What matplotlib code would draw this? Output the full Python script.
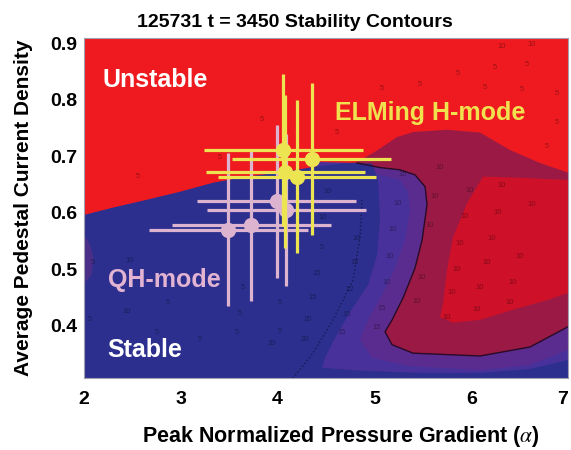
import numpy as np
import matplotlib.pyplot as plt

plt.rcParams['font.family'] = ['Liberation Sans', 'DejaVu Sans']
plt.rcParams['mathtext.fontset'] = 'stix'

# measured points (alpha, j_ped) with error bars
elm_x = [4.06, 4.35, 4.08, 4.20]
elm_y = [0.711, 0.695, 0.673, 0.664]
elm_xerr = [0.82, 0.82, 0.82, 0.82]
elm_yerr = [0.135, 0.135, 0.135, 0.135]

qh_x = [3.99, 4.09, 3.73, 3.49]
qh_y = [0.620, 0.605, 0.578, 0.570]
qh_xerr = [0.82, 0.82, 0.82, 0.82]
qh_yerr = [0.135, 0.135, 0.135, 0.135]

# region boundaries
bump_x = [4.645, 4.82, 5.006, 5.233, 5.399, 5.75, 6.091, 6.401, 6.711, 7.0, 7.0, 4.645]
bump_y = [0.685, 0.690, 0.708, 0.734, 0.743, 0.747, 0.742, 0.711, 0.688, 0.671, 0.30, 0.30]

line_x = [4.82, 5.058, 5.264, 5.419, 5.523, 5.543, 5.492, 5.419, 5.295, 5.182, 5.109,
          5.182, 5.399, 6.091, 6.607, 7.0]
line_y = [0.688, 0.680, 0.676, 0.667, 0.646, 0.614, 0.552, 0.502, 0.449, 0.410, 0.389,
          0.366, 0.351, 0.346, 0.362, 0.398]

band_x = [5.058, 5.264, 5.347, 5.368, 5.316, 5.213, 5.078, 4.934, 4.851, 4.975, 5.368,
          6.091, 6.607, 7.0]
band_y = [0.667, 0.658, 0.637, 0.605, 0.552, 0.502, 0.454, 0.410, 0.375, 0.343, 0.328,
          0.321, 0.330, 0.357]

stable_x = [2.0, 2.30, 2.65, 2.99, 3.33, 3.68, 4.02, 4.37, 4.72, 4.975, 5.037, 5.058,
            5.027, 4.934, 4.748, 4.593, 4.490, 4.459, 4.851, 5.471, 6.091, 6.607, 7.0,
            7.0, 2.0]
stable_y = [0.596, 0.609, 0.623, 0.637, 0.653, 0.664, 0.671, 0.681, 0.688, 0.687, 0.658,
            0.587, 0.525, 0.472, 0.424, 0.378, 0.343, 0.325, 0.320, 0.316, 0.316, 0.323,
            0.339, 0.30, 0.30]

core_x = [6.122, 5.957, 5.812, 5.75, 5.709, 5.678, 5.812, 6.091, 6.432, 6.783, 7.0, 7.0, 6.504]
core_y = [0.664, 0.617, 0.557, 0.499, 0.440, 0.415, 0.405, 0.410, 0.428, 0.445, 0.458,
          0.658, 0.662]

patch_x = [2.0, 2.06, 2.10, 2.08, 2.0]
patch_y = [0.56, 0.545, 0.52, 0.49, 0.475]

dot_x = [4.872, 4.851, 4.779, 4.572, 4.366, 4.159]
dot_y = [0.623, 0.557, 0.481, 0.410, 0.351, 0.307]

# growth-rate labels scattered over the contour map
lab_x = [5.678, 5.988, 6.318, 5.626, 5.936, 6.267, 6.628, 5.574, 5.884, 6.215, 6.504,
         6.163, 5.853, 5.492, 6.091, 6.432, 5.802, 5.44, 6.06, 6.40, 5.75,
         5.295, 5.244, 5.192, 5.16, 5.13, 5.078, 5.027,
         4.52, 4.47, 4.82, 4.459, 4.407, 4.8, 4.748, 4.366, 4.717, 4.314, 4.665, 4.283,
         5.864, 6.246, 6.577, 6.143, 5.471, 5.078, 6.525, 6.886, 6.628, 6.318, 3.839,
         2.558, 3.405, 4.614, 6.886, 6.783,
         3.64, 4.02, 3.61, 2.87, 2.44, 2.475, 2.09, 4.02, 3.94, 3.58, 3.2, 2.75, 2.06]
lab_y = [0.680, 0.640, 0.649, 0.628, 0.593, 0.600, 0.614, 0.578, 0.546, 0.555, 0.522,
         0.511, 0.499, 0.486, 0.467, 0.477, 0.458, 0.442, 0.428, 0.440, 0.415,
         0.667, 0.617, 0.570, 0.522, 0.476, 0.431, 0.396,
         0.637, 0.591, 0.555, 0.539, 0.493, 0.511, 0.463, 0.449, 0.419, 0.410, 0.387, 0.375,
         0.846, 0.858, 0.863, 0.822, 0.828, 0.820, 0.818, 0.812, 0.898, 0.895, 0.765,
         0.664, 0.697, 0.742, 0.759, 0.717,
         0.467, 0.440, 0.422, 0.440, 0.424, 0.516, 0.511, 0.389, 0.369, 0.387, 0.375, 0.387, 0.41]
lab_t = ['10'] * 21 + ['15', '10', '10', '10', '10', '15', '15'] + \
        ['10', '10', '10', '5', '15', '15', '12', '15', '15', '20', '15', '20'] + \
        ['5'] * 8 + ['10', '10', '5', '5', '5', '5', '5', '5'] + \
        ['5', '5', '5', '5', '10', '10', '5', '5', '20', '5', '5', '5', '5']

fig = plt.figure(figsize=(5.71, 4.5), dpi=100)
ax = fig.add_axes([0.147, 0.16, 0.848, 0.756])
ax.set_facecolor('#EF1A20')

ax.fill(bump_x, bump_y, color='#9A1A45', lw=0)
ax.fill([4.4] + line_x + [7.0, 4.4], [0.69] + line_y + [0.30, 0.30], color='#48319A', lw=0)
ax.fill(band_x + line_x[::-1], band_y + line_y[::-1], color='#5A2C8F', lw=0)
ax.fill(stable_x, stable_y, color='#2C2F8E', lw=0)
ax.fill(core_x, core_y, color='#CE1028', lw=0)
ax.fill(patch_x, patch_y, color='#4A2E88', lw=0)
ax.plot(line_x, line_y, color='#2A0A25', lw=1)
ax.plot(dot_x, dot_y, color='#1A1A55', lw=1, ls=':')

for x, y, t in zip(lab_x, lab_y, lab_t):
    ax.text(x, y, t, fontsize=5.5, color='black', alpha=0.35, ha='center', va='center')

ax.errorbar(qh_x, qh_y, xerr=qh_xerr, yerr=qh_yerr, fmt='o', color='#DDB4D0',
            ms=10, elinewidth=2.3, capsize=0, zorder=5)
ax.errorbar(elm_x, elm_y, xerr=elm_xerr, yerr=elm_yerr, fmt='o', color='#EDE452',
            ms=10, elinewidth=2.3, capsize=0, zorder=6)

tf = dict(family='Liberation Sans', fontweight='bold', fontsize=18, ha='left', va='center')
ax.text(2.196, 0.836, 'Unstable', color='white', **tf)
ax.text(4.593, 0.777, 'ELMing H-mode', color='#F0E24E', **tf)
ax.text(2.248, 0.481, 'QH-mode', color='#E2B4D2', **tf)
ax.text(2.238, 0.357, 'Stable', color='white', **tf)

ax.set_xlim(2, 7)
ax.set_ylim(0.307, 0.91)
ax.set_xticks([2, 3, 4, 5, 6, 7])
ax.set_yticks([0.4, 0.5, 0.6, 0.7, 0.8, 0.9])
ax.tick_params(length=0, labelsize=14, pad=5)
ax.tick_params(axis='x', pad=9)
for lbl in ax.get_xticklabels() + ax.get_yticklabels():
    lbl.set_fontweight('bold')
ax.get_xticklabels()[-1].set_horizontalalignment('right')
for s in ax.spines.values():
    s.set_color('#A0A0B0')
    s.set_linewidth(0.8)

ax.set_xlabel(r'Peak Normalized Pressure Gradient ($\alpha$)', fontsize=15.5, fontweight='bold', labelpad=14)
ax.xaxis.set_label_coords(0.531, -0.135)
ax.set_ylabel('Average Pedestal Current Density', fontsize=15, fontweight='bold', labelpad=12)
fig.text(0.517, 0.951, '125731 t = 3450 Stability Contours', fontsize=14, fontweight='bold',
         ha='center', va='center')

fig.savefig('out.png', dpi=100)
